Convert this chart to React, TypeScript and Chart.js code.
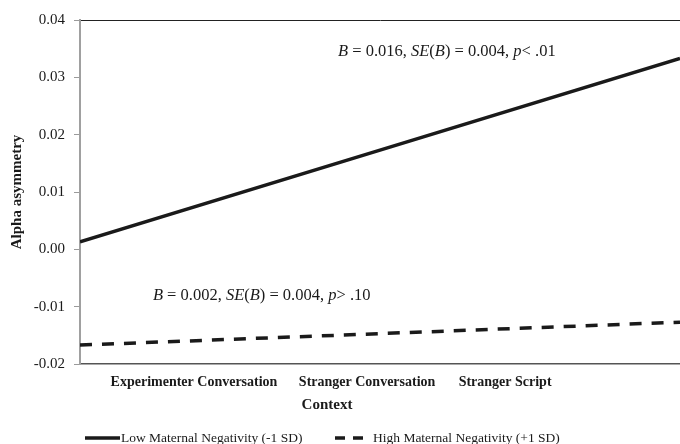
import React, { useEffect, useRef } from "react";
import { Chart, registerables } from "chart.js";

Chart.register(...registerables);

// ---- data ----
const CATEGORIES = ["Experimenter Conversation", "Stranger Conversation", "Stranger Script"];
const LOW_NEG = [0.0013, 0.0173, 0.0333];
const HIGH_NEG = [-0.0167, -0.0147, -0.0127];
const SERIES_LABELS = ["Low Maternal Negativity (-1 SD)", "High Maternal Negativity (+1 SD)"];
const Y_TITLE = "Alpha asymmetry";
const X_TITLE = "Context";
// rich text segments: [text, italic]
const LOW_NOTE: [string, boolean][] = [
  ["B", true], [" = 0.016, ", false], ["SE", true], ["(", false], ["B", true],
  [") = 0.004, ", false], ["p", true], ["< .01", false],
];
const HIGH_NOTE: [string, boolean][] = [
  ["B", true], [" = 0.002, ", false], ["SE", true], ["(", false], ["B", true],
  [") = 0.004, ", false], ["p", true], ["> .10", false],
];

// ---- layout (not data) ----
const LABEL_POS = [0.38, 0.957, 1.417]; // x-axis units where category labels sit
const NOTE_ANCHORS: [number, number][] = [[0.86, 0.0344], [0.243, -0.008]];
const SERIF = "'Liberation Serif', 'Times New Roman', serif";
const INK = "#1a1a1a";

function drawRich(ctx: CanvasRenderingContext2D, segs: [string, boolean][], x: number, y: number) {
  let cx = x;
  ctx.textAlign = "left";
  ctx.textBaseline = "middle";
  ctx.fillStyle = INK;
  for (const [t, it] of segs) {
    ctx.font = `${it ? "italic " : ""}16.5px ${SERIF}`;
    ctx.fillText(t, cx, y);
    cx += ctx.measureText(t).width;
  }
}

const extras = {
  id: "extras",
  afterDraw(chart: any) {
    const ctx: CanvasRenderingContext2D = chart.ctx;
    const xs = chart.scales.x;
    const ys = chart.scales.y;
    ctx.save();
    drawRich(ctx, LOW_NOTE, xs.getPixelForValue(NOTE_ANCHORS[0][0]), ys.getPixelForValue(NOTE_ANCHORS[0][1]));
    drawRich(ctx, HIGH_NOTE, xs.getPixelForValue(NOTE_ANCHORS[1][0]), ys.getPixelForValue(NOTE_ANCHORS[1][1]));

    // x-axis title
    ctx.font = `bold 15px ${SERIF}`;
    ctx.textAlign = "center";
    ctx.textBaseline = "middle";
    ctx.fillStyle = INK;
    ctx.fillText(X_TITLE, 327, 405);

    // legend
    const legendY = 438;
    const starts = [85, 335];
    const lens = [35, 28];
    const gaps = [1, 10];
    chart.data.datasets.forEach((ds: any, i: number) => {
      ctx.save();
      ctx.strokeStyle = ds.borderColor;
      ctx.lineWidth = ds.borderWidth;
      ctx.setLineDash(ds.borderDash && ds.borderDash.length ? [10, 8] : []);
      ctx.beginPath();
      ctx.moveTo(starts[i], legendY);
      ctx.lineTo(starts[i] + lens[i], legendY);
      ctx.stroke();
      ctx.restore();
      ctx.font = `13.5px ${SERIF}`;
      ctx.textAlign = "left";
      ctx.textBaseline = "middle";
      ctx.fillStyle = INK;
      ctx.fillText(ds.label, starts[i] + lens[i] + gaps[i], legendY);
    });
    ctx.restore();
  },
};

export default function App() {
  const ref = useRef<HTMLCanvasElement | null>(null);

  useEffect(() => {
    document.body.style.margin = "0";
    if (!ref.current) return;
    const chart = new Chart(ref.current, {
      type: "line",
      data: {
        datasets: [
          {
            label: SERIES_LABELS[0],
            data: LOW_NEG.map((v, i) => ({ x: i, y: v })),
            borderColor: INK,
            borderWidth: 3.5,
            pointRadius: 0,
            tension: 0,
            fill: false,
          },
          {
            label: SERIES_LABELS[1],
            data: HIGH_NEG.map((v, i) => ({ x: i, y: v })),
            borderColor: INK,
            borderWidth: 3.5,
            borderDash: [12, 10],
            pointRadius: 0,
            tension: 0,
            fill: false,
          },
        ],
      },
      options: {
        responsive: false,
        animation: false,
        layout: { padding: { top: 20, right: 0, left: 0, bottom: 0 } },
        plugins: { legend: { display: false }, tooltip: { enabled: false } },
        scales: {
          x: {
            type: "linear",
            min: 0,
            max: 2,
            grid: { display: false, drawTicks: false },
            border: { display: true, color: "#555", width: 1.5 },
            afterBuildTicks: (scale: any) => {
              scale.ticks = LABEL_POS.map((v) => ({ value: v }));
            },
            afterFit: (scale: any) => {
              scale.height = 80;
            },
            ticks: {
              autoSkip: false,
              maxRotation: 0,
              padding: 10,
              color: INK,
              font: { family: SERIF, size: 14, weight: "bold" },
              callback: (_v: any, i: number) => CATEGORIES[i],
            },
          },
          y: {
            min: -0.02,
            max: 0.04,
            afterFit: (scale: any) => {
              scale.width = 80;
            },
            ticks: {
              stepSize: 0.01,
              padding: 9,
              color: INK,
              font: { family: SERIF, size: 15 },
              callback: (v: any) => {
                const n = Math.abs(Number(v)) < 1e-9 ? 0 : Number(v);
                return n.toFixed(2);
              },
            },
            grid: {
              drawTicks: true,
              tickLength: 6,
              tickColor: "#9a9a9a",
              color: (c: any) => (c.tick && Math.abs(c.tick.value - 0.04) < 1e-9 ? "#222" : "rgba(0,0,0,0)"),
              lineWidth: 1,
            },
            border: { display: true, color: "#a0a0a0", width: 2 },
            title: {
              display: true,
              text: Y_TITLE,
              color: INK,
              font: { family: SERIF, size: 15, weight: "bold" },
              padding: { top: 8, bottom: 4 },
            },
          },
        },
      },
      plugins: [extras],
    });
    return () => chart.destroy();
  }, []);

  return (
    <div style={{ position: "fixed", left: 0, top: 0, width: 680, height: 444, background: "#fff" }}>
      <canvas ref={ref} width={680} height={444} />
    </div>
  );
}
